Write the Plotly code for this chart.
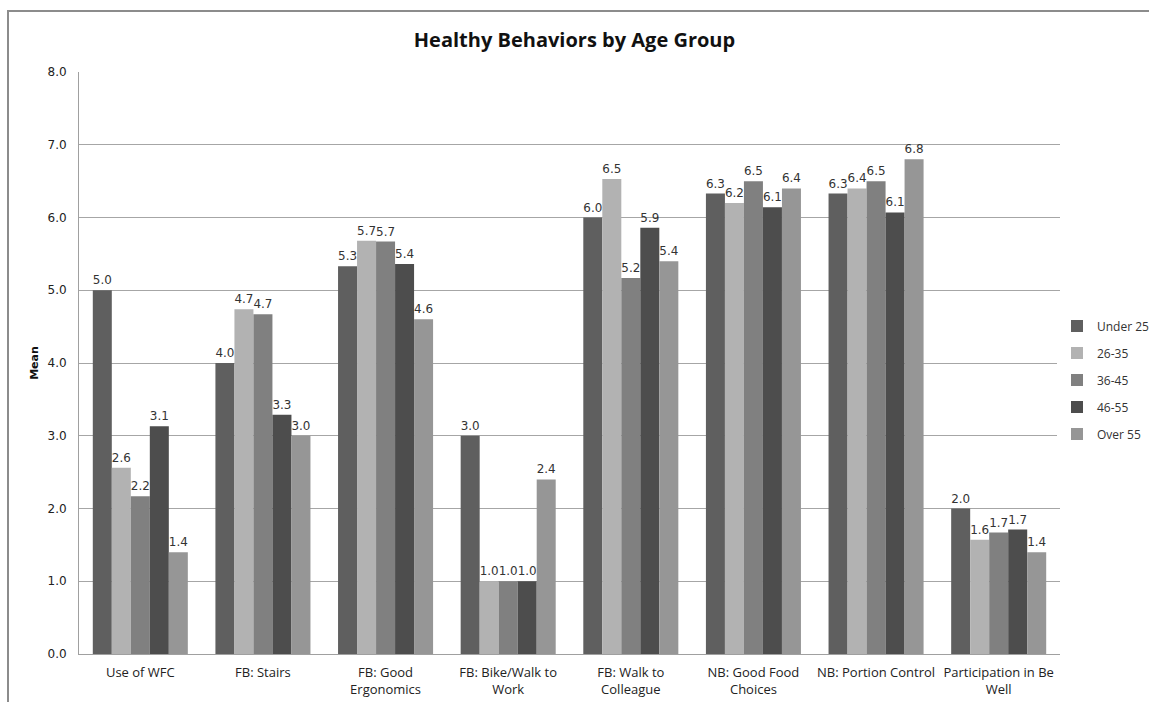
import plotly.graph_objects as go

categories = [
    "Use of WFC",
    "FB: Stairs",
    "FB: Good<br>Ergonomics",
    "FB: Bike/Walk to<br>Work",
    "FB: Walk to<br>Colleague",
    "NB: Good Food<br>Choices",
    "NB: Portion Control",
    "Participation in Be<br>Well",
]

age_groups = ["Under 25", "26-35", "36-45", "46-55", "Over 55"]

under_25 = [5.00, 4.00, 5.33, 3.00, 6.00, 6.33, 6.33, 2.00]
age_26_35 = [2.56, 4.74, 5.68, 1.00, 6.53, 6.20, 6.40, 1.57]
age_36_45 = [2.17, 4.67, 5.67, 1.00, 5.17, 6.50, 6.50, 1.67]
age_46_55 = [3.13, 3.29, 5.36, 1.00, 5.86, 6.14, 6.07, 1.71]
over_55 = [1.40, 3.00, 4.60, 2.40, 5.40, 6.40, 6.80, 1.40]

series = [under_25, age_26_35, age_36_45, age_46_55, over_55]
colors = ["#5f5f5f", "#b2b2b2", "#808080", "#4d4d4d", "#969696"]

fig = go.Figure()
for name, vals, col in zip(age_groups, series, colors):
    fig.add_trace(go.Bar(
        name=name,
        legendgroup=name,
        x=categories,
        y=vals,
        marker=dict(color=col, line=dict(width=0)),
        text=[f"{v:.1f}" for v in vals],
        textposition="outside",
        cliponaxis=False,
        textfont=dict(family="DejaVu Sans", size=12, color="#333333"),
    ))

fig.update_layout(
    width=1149,
    height=702,
    barmode="group",
    bargap=0.225,
    bargroupgap=0,
    plot_bgcolor="white",
    paper_bgcolor="white",
    margin=dict(l=79, r=89, t=72, b=48, autoexpand=False),
    title=dict(
        text="<b>Healthy Behaviors by Age Group</b>",
        x=0.5,
        xanchor="center",
        y=0.943,
        yanchor="middle",
        font=dict(family="Open Sans", size=20, color="#111111"),
    ),
    showlegend=True,
    legend=dict(
        xref="container",
        yref="container",
        x=1057 / 1149,
        y=1 - 380 / 702,
        xanchor="left",
        yanchor="middle",
        font=dict(family="Open Sans", size=12, color="#333333"),
        tracegroupgap=8,
        itemwidth=30,
    ),
    xaxis=dict(
        showgrid=False,
        showline=True,
        linecolor="#a0a0a0",
        linewidth=1,
        ticks="",
        ticklabelstandoff=6,
        tickfont=dict(family="Open Sans", size=13, color="#222222"),
    ),
    yaxis=dict(
        range=[0, 8],
        dtick=1,
        tickformat=".1f",
        showgrid=True,
        gridcolor="#a6a6a6",
        gridwidth=1,
        showline=True,
        linecolor="#a0a0a0",
        linewidth=1,
        ticks="",
        ticklen=0,
        ticklabelstandoff=9,
        zeroline=False,
        tickfont=dict(family="DejaVu Sans", size=12, color="#222222"),
        title=dict(text="<b>Mean</b>", font=dict(family="DejaVu Sans", size=11, color="#111111"), standoff=6),
    ),
)

# chart frame (runs past the right and bottom edges of the page)
fig.add_shape(
    type="rect",
    xref="paper", yref="paper",
    x0=-71 / 981, x1=1.5,
    y0=-0.3, y1=1 + 61 / 582,
    line=dict(color="#8c8c8c", width=2),
    fillcolor="rgba(0,0,0,0)",
    layer="below",
)

fig.write_html("out.html")
